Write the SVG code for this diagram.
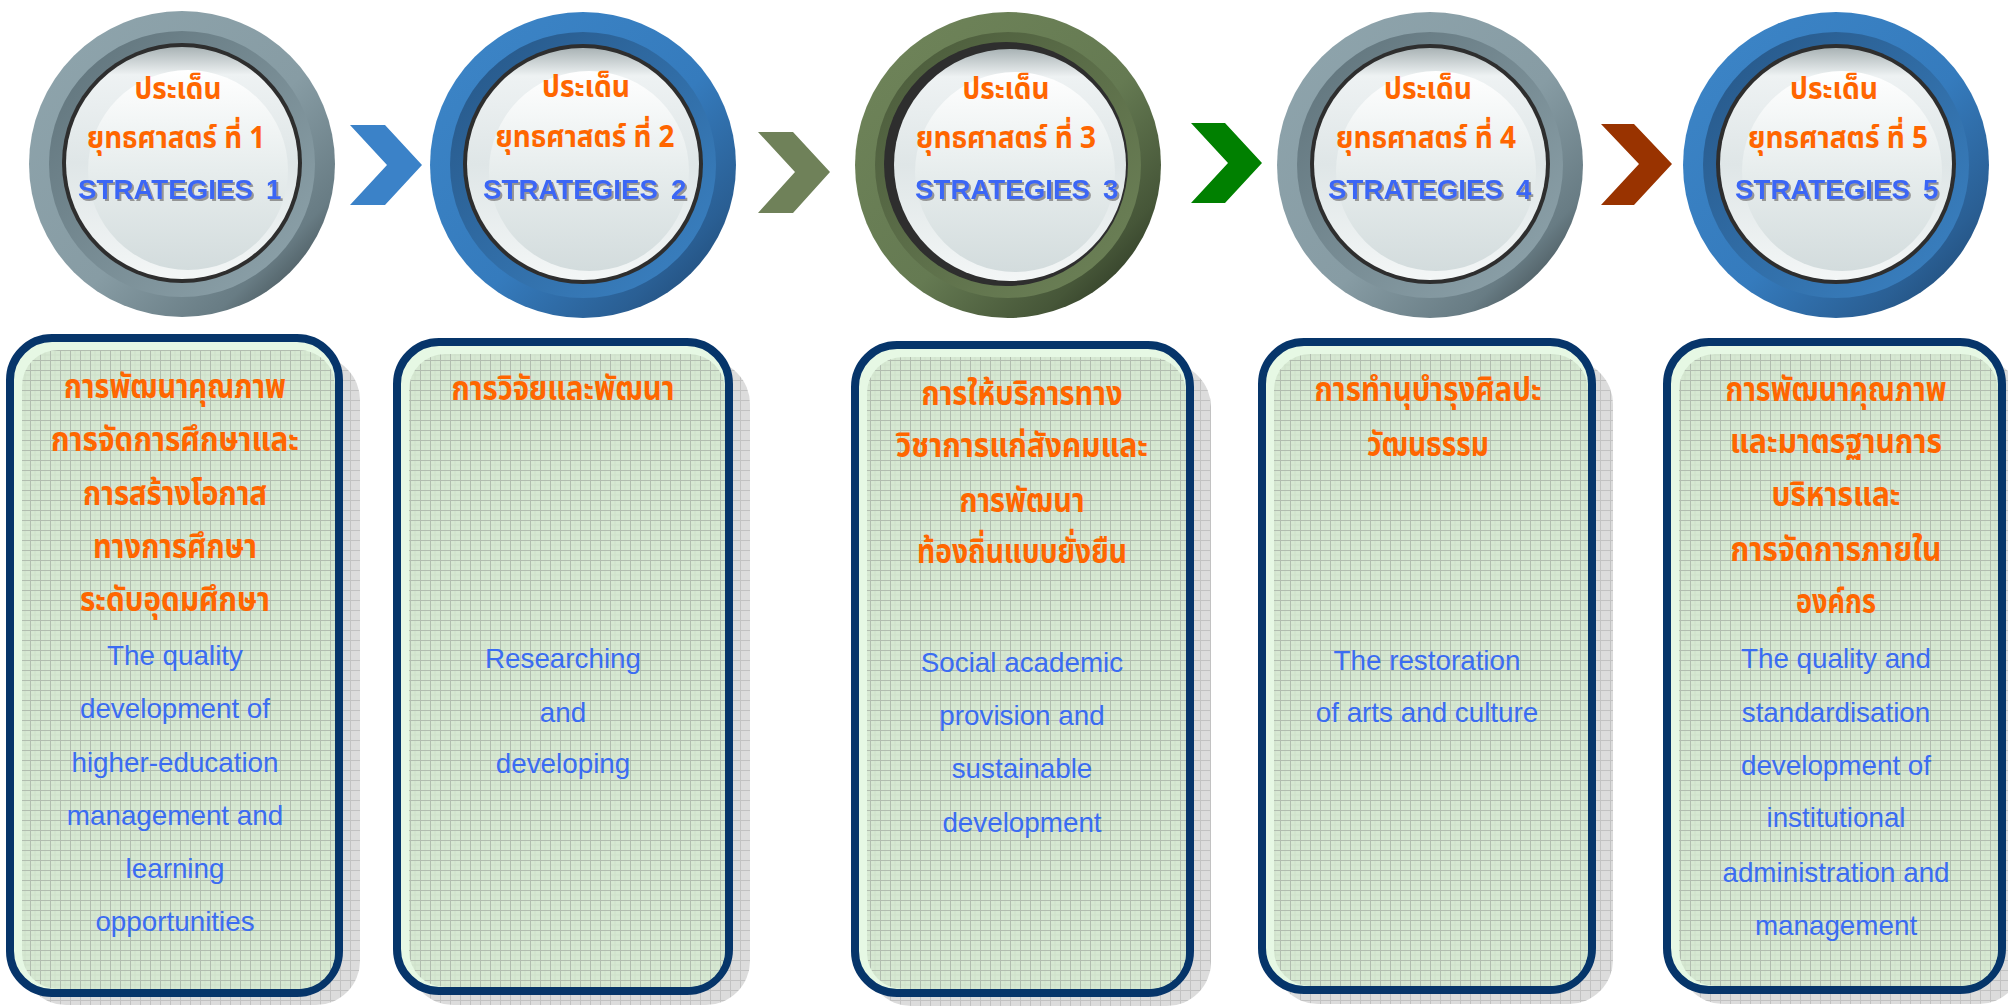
<svg xmlns="http://www.w3.org/2000/svg" width="2008" height="1006" viewBox="0 0 2008 1006">
<style>
.th{font-family:"Noto Sans Thai","Noto Serif Thai","TH Sarabun New","Garuda","Loma","Norasi","Tlwg Typo","DejaVu Sans","Liberation Serif",serif;font-weight:bold;fill:#ff6600;text-anchor:middle}
.thc{font-size:30px}
.thb{font-size:34px}
.en{font-family:"Liberation Sans",Arial,sans-serif;font-size:27.8px;fill:#3b6cf2;text-anchor:middle}
.st{font-family:"Liberation Sans",Arial,sans-serif;font-weight:bold;font-size:27.7px;fill:#3a66f5;filter:url(#tsh)}
.box{stroke:#06356a;stroke-width:8;fill:#e6f8e4}
.boxin{fill:url(#grid)}
.shd{fill:url(#sgrid)}
.blk{fill:#2e2e2e}
.disc{fill:url(#discg)}
.discin{fill:url(#disci)}
</style>
<defs>
<pattern id="grid" width="10" height="10" patternUnits="userSpaceOnUse">
<rect width="10" height="10" fill="#d6e8d2"/>
<path d="M0 5H10M5 0V10" stroke="#cfe0cb" stroke-width="1"/>
<path d="M0 0.5H10M0.5 0V10" stroke="#b2bdb0" stroke-width="1"/>
</pattern>
<pattern id="sgrid" width="10" height="10" patternUnits="userSpaceOnUse">
<rect width="10" height="10" fill="#dcdcdc"/>
<path d="M0 0.5H10M0.5 0V10" stroke="#c2c2c2" stroke-width="1"/>
</pattern>
<filter id="tsh" x="-5%" y="-20%" width="115%" height="150%">
<feDropShadow dx="2" dy="2" stdDeviation="0.6" flood-color="#8c8c8c" flood-opacity="0.9"/>
</filter>
<linearGradient id="gO" x1="0" y1="0" x2="1" y2="1"><stop offset="0" stop-color="#8fa5ad"/><stop offset="0.55" stop-color="#879ca4"/><stop offset="0.8" stop-color="#687c84"/><stop offset="1" stop-color="#262e31"/></linearGradient>
<linearGradient id="gB" x1="0" y1="0" x2="1" y2="1"><stop offset="0" stop-color="#5e727a"/><stop offset="1" stop-color="#90a5ad"/></linearGradient>
<linearGradient id="bO" x1="0" y1="0" x2="1" y2="1"><stop offset="0" stop-color="#3d86c8"/><stop offset="0.55" stop-color="#357bbd"/><stop offset="0.8" stop-color="#2a5f94"/><stop offset="1" stop-color="#1b3f66"/></linearGradient>
<linearGradient id="bB" x1="0" y1="0" x2="1" y2="1"><stop offset="0" stop-color="#265686"/><stop offset="1" stop-color="#3b83c5"/></linearGradient>
<linearGradient id="vO" x1="0" y1="0" x2="1" y2="1"><stop offset="0" stop-color="#70855a"/><stop offset="0.55" stop-color="#657a52"/><stop offset="0.8" stop-color="#465638"/><stop offset="1" stop-color="#1c2416"/></linearGradient>
<linearGradient id="vB" x1="0" y1="0" x2="1" y2="1"><stop offset="0" stop-color="#4a5a3a"/><stop offset="1" stop-color="#6f8459"/></linearGradient>
<linearGradient id="discg" x1="0" y1="0" x2="0" y2="1"><stop offset="0" stop-color="#a9b3b5"/><stop offset="0.12" stop-color="#eef2f3"/><stop offset="0.5" stop-color="#dfe6e7"/><stop offset="1" stop-color="#f3f6f6"/></linearGradient>
<linearGradient id="disci" x1="0" y1="0" x2="0" y2="1"><stop offset="0" stop-color="#ffffff"/><stop offset="0.5" stop-color="#e7eded"/><stop offset="1" stop-color="#d3dcdd"/></linearGradient>
</defs>
<rect width="2008" height="1006" fill="#ffffff"/>

<g id="connectors">
<polygon points="350,125 385,125 422,165 385,205 350,205 387,165" fill="#3b82c8"/>
<polygon points="758,132 793,132 830,172 793,213 758,213 795,172" fill="#6f8159"/>
<polygon points="1191,123 1225,123 1262,163 1225,203 1191,203 1228,163" fill="#008000"/>
<polygon points="1601,124 1634,124 1672,164 1634,205 1601,205 1639,164" fill="#993300"/>
</g>

<g id="strategy1">
<circle cx="182" cy="164" r="153" fill="url(#gO)"/>
<circle cx="182" cy="164" r="133" fill="url(#gB)"/>
<circle cx="182" cy="163" r="120" class="blk"/>
<circle cx="182" cy="163" r="116" class="disc"/>
<circle cx="188" cy="170" r="100" class="discin"/>
<text class="th thc" x="178" y="99" textLength="87" lengthAdjust="spacingAndGlyphs">ประเด็น</text>
<text class="th thc" x="176" y="148" textLength="178" lengthAdjust="spacingAndGlyphs">ยุทธศาสตร์ ที่ 1</text>
<text class="st" x="78" y="199">STRATEGIES<tspan x="266">1</tspan></text>
</g>

<g id="strategy2">
<circle cx="583" cy="165" r="153" fill="url(#bO)"/>
<circle cx="583" cy="165" r="133" fill="url(#bB)"/>
<circle cx="583" cy="164" r="120" class="blk"/>
<circle cx="583" cy="164" r="116" class="disc"/>
<circle cx="589" cy="171" r="100" class="discin"/>
<text class="th thc" x="586" y="97" textLength="88" lengthAdjust="spacingAndGlyphs">ประเด็น</text>
<text class="th thc" x="585" y="147" textLength="179" lengthAdjust="spacingAndGlyphs">ยุทธศาสตร์ ที่ 2</text>
<text class="st" x="483" y="199">STRATEGIES<tspan x="671">2</tspan></text>
</g>

<g id="strategy3">
<circle cx="1008" cy="165" r="153" fill="url(#vO)"/>
<circle cx="1008" cy="165" r="133" fill="url(#vB)"/>
<circle cx="1006" cy="164" r="122" class="blk"/>
<circle cx="1010" cy="165" r="116" class="disc"/>
<circle cx="1015" cy="172" r="100" class="discin"/>
<text class="th thc" x="1006" y="99" textLength="87" lengthAdjust="spacingAndGlyphs">ประเด็น</text>
<text class="th thc" x="1006" y="148" textLength="180" lengthAdjust="spacingAndGlyphs">ยุทธศาสตร์ ที่ 3</text>
<text class="st" x="915" y="199">STRATEGIES<tspan x="1103">3</tspan></text>
</g>

<g id="strategy4">
<circle cx="1430" cy="165" r="153" fill="url(#gO)"/>
<circle cx="1430" cy="165" r="133" fill="url(#gB)"/>
<circle cx="1430" cy="164" r="120" class="blk"/>
<circle cx="1430" cy="164" r="116" class="disc"/>
<circle cx="1436" cy="171" r="100" class="discin"/>
<text class="th thc" x="1428" y="99" textLength="88" lengthAdjust="spacingAndGlyphs">ประเด็น</text>
<text class="th thc" x="1426" y="148" textLength="180" lengthAdjust="spacingAndGlyphs">ยุทธศาสตร์ ที่ 4</text>
<text class="st" x="1328" y="199">STRATEGIES<tspan x="1516">4</tspan></text>
</g>

<g id="strategy5">
<circle cx="1836" cy="165" r="153" fill="url(#bO)"/>
<circle cx="1836" cy="165" r="133" fill="url(#bB)"/>
<circle cx="1836" cy="164" r="120" class="blk"/>
<circle cx="1836" cy="164" r="116" class="disc"/>
<circle cx="1842" cy="171" r="100" class="discin"/>
<text class="th thc" x="1834" y="99" textLength="88" lengthAdjust="spacingAndGlyphs">ประเด็น</text>
<text class="th thc" x="1838" y="148" textLength="180" lengthAdjust="spacingAndGlyphs">ยุทธศาสตร์ ที่ 5</text>
<text class="st" x="1735" y="199">STRATEGIES<tspan x="1923">5</tspan></text>
</g>

<g id="box1">
<rect class="shd" x="22" y="356" width="338" height="649" rx="44"/>
<rect class="box" x="10" y="338" width="329" height="655" rx="42"/>
<rect class="boxin" x="22" y="350" width="313" height="639" rx="36"/>
<text class="th thb" x="175" y="398" textLength="222" lengthAdjust="spacingAndGlyphs">การพัฒนาคุณภาพ</text>
<text class="th thb" x="175" y="451" textLength="248" lengthAdjust="spacingAndGlyphs">การจัดการศึกษาและ</text>
<text class="th thb" x="175" y="505" textLength="184" lengthAdjust="spacingAndGlyphs">การสร้างโอกาส</text>
<text class="th thb" x="175" y="558" textLength="164" lengthAdjust="spacingAndGlyphs">ทางการศึกษา</text>
<text class="th thb" x="175" y="611" textLength="190" lengthAdjust="spacingAndGlyphs">ระดับอุดมศึกษา</text>
<text class="en" x="175" y="665">The quality</text>
<text class="en" x="175" y="718">development of</text>
<text class="en" x="175" y="772">higher-education</text>
<text class="en" x="175" y="825">management and</text>
<text class="en" x="175" y="878">learning</text>
<text class="en" x="175" y="931">opportunities</text>
</g>

<g id="box2">
<rect class="shd" x="409" y="360" width="341" height="645" rx="44"/>
<rect class="box" x="397" y="342" width="332" height="649" rx="42"/>
<rect class="boxin" x="409" y="354" width="316" height="633" rx="36"/>
<text class="th thb" x="563" y="400" textLength="223" lengthAdjust="spacingAndGlyphs">การวิจัยและพัฒนา</text>
<text class="en" x="563" y="668">Researching</text>
<text class="en" x="563" y="722">and</text>
<text class="en" x="563" y="773">developing</text>
</g>

<g id="box3">
<rect class="shd" x="867" y="363" width="344" height="643" rx="44"/>
<rect class="box" x="855" y="345" width="335" height="648" rx="42"/>
<rect class="boxin" x="867" y="357" width="319" height="632" rx="36"/>
<text class="th thb" x="1022" y="405" textLength="201" lengthAdjust="spacingAndGlyphs">การให้บริการทาง</text>
<text class="th thb" x="1022" y="457" textLength="252" lengthAdjust="spacingAndGlyphs">วิชาการแก่สังคมและ</text>
<text class="th thb" x="1022" y="512" textLength="125" lengthAdjust="spacingAndGlyphs">การพัฒนา</text>
<text class="th thb" x="1022" y="563" textLength="210" lengthAdjust="spacingAndGlyphs">ท้องถิ่นแบบยั่งยืน</text>
<text class="en" x="1022" y="672">Social academic</text>
<text class="en" x="1022" y="725">provision and</text>
<text class="en" x="1022" y="778">sustainable</text>
<text class="en" x="1022" y="832">development</text>
</g>

<g id="box4">
<rect class="shd" x="1274" y="360" width="339" height="644" rx="44"/>
<rect class="box" x="1262" y="342" width="330" height="648" rx="42"/>
<rect class="boxin" x="1274" y="354" width="314" height="632" rx="36"/>
<text class="th thb" x="1428" y="401" textLength="227" lengthAdjust="spacingAndGlyphs">การทำนุบำรุงศิลปะ</text>
<text class="th thb" x="1428" y="456" textLength="122" lengthAdjust="spacingAndGlyphs">วัฒนธรรม</text>
<text class="en" x="1427" y="670">The restoration</text>
<text class="en" x="1427" y="722">of arts and culture</text>
</g>

<g id="box5">
<rect class="shd" x="1679" y="360" width="344" height="644" rx="44"/>
<rect class="box" x="1667" y="342" width="335" height="648" rx="42"/>
<rect class="boxin" x="1679" y="354" width="319" height="632" rx="36"/>
<text class="th thb" x="1836" y="401" textLength="221" lengthAdjust="spacingAndGlyphs">การพัฒนาคุณภาพ</text>
<text class="th thb" x="1836" y="453" textLength="212" lengthAdjust="spacingAndGlyphs">และมาตรฐานการ</text>
<text class="th thb" x="1836" y="506" textLength="129" lengthAdjust="spacingAndGlyphs">บริหารและ</text>
<text class="th thb" x="1836" y="561" textLength="211" lengthAdjust="spacingAndGlyphs">การจัดการภายใน</text>
<text class="th thb" x="1836" y="613" textLength="80" lengthAdjust="spacingAndGlyphs">องค์กร</text>
<text class="en" x="1836" y="668">The quality and</text>
<text class="en" x="1836" y="722">standardisation</text>
<text class="en" x="1836" y="775">development of</text>
<text class="en" x="1836" y="827">institutional</text>
<text class="en" x="1836" y="882">administration and</text>
<text class="en" x="1836" y="935">management</text>
</g>
</svg>
